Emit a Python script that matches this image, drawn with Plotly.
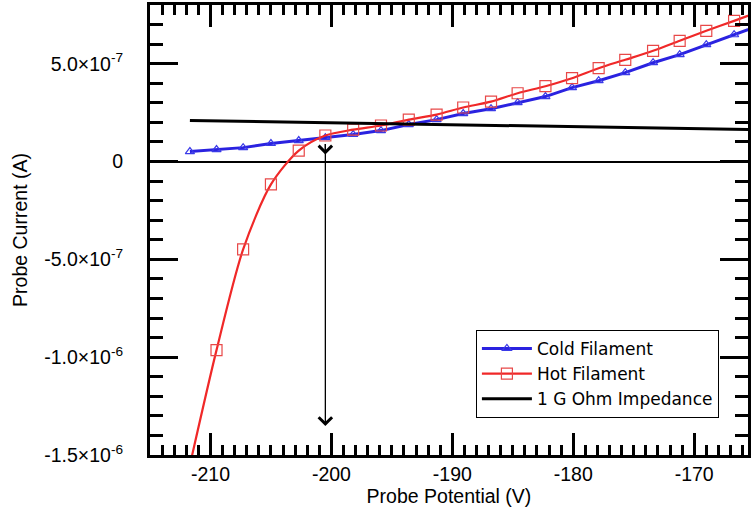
import plotly.graph_objects as go

# ---- data ----
potential = [-211.7, -209.5, -207.3, -205.0, -202.7, -200.5, -198.2, -195.9, -193.6, -191.3,
             -189.1, -186.8, -184.6, -182.3, -180.1, -177.9, -175.7, -173.4, -171.2, -169.0,
             -166.7, -164.45]
cold_current = [5.1e-8, 6.1e-8, 7.1e-8, 9.2e-8, 1.07e-7, 1.22e-7, 1.38e-7, 1.58e-7, 1.89e-7, 2.14e-7,
                2.45e-7, 2.70e-7, 3.01e-7, 3.32e-7, 3.78e-7, 4.13e-7, 4.54e-7, 5.05e-7, 5.46e-7, 5.97e-7,
                6.48e-7, 6.99e-7]
hot_current = [-1.551e-6, -9.64e-7, -4.49e-7, -1.17e-7, 5.6e-8, 1.33e-7, 1.63e-7, 1.84e-7, 2.14e-7, 2.40e-7,
               2.76e-7, 3.06e-7, 3.49e-7, 3.85e-7, 4.26e-7, 4.77e-7, 5.20e-7, 5.66e-7, 6.17e-7, 6.68e-7,
               7.19e-7, 7.70e-7]
load_potential = [-211.7, -165.0]
load_current = [2.1e-7, 1.63e-7]

arrow_x = -200.5
arrow_top = 9.7e-8
arrow_mid = 3.6e-8
arrow_bottom = -1.352e-6

x_range = [-215, -165.55]
y_range = [-1.5e-6, 8.0e-7]
y_tickvals = [-1.5e-6, -1.0e-6, -5.0e-7, 0, 5.0e-7]
y_ticktext = ["-1.5×10<sup>-6</sup>", "-1.0×10<sup>-6</sup>", "-5.0×10<sup>-7</sup>", "0",
              "5.0×10<sup>-7</sup>"]
x_tickvals = [-210, -200, -190, -180, -170]
x_ticktext = ["-210", "-200", "-190", "-180", "-170"]

FONT = "Liberation Sans, Arial, sans-serif"
LEGEND_FONT = "DejaVu Sans, sans-serif"

fig = go.Figure()
fig.add_trace(go.Scatter(
    x=potential, y=cold_current, name="Cold Filament", mode="lines+markers",
    line=dict(color="#2a22e0", width=3),
    marker=dict(symbol="triangle-up-open", size=8, color="#3a3ae8", line=dict(width=1.2)),
))
fig.add_trace(go.Scatter(
    x=potential, y=hot_current, name="Hot Filament", mode="lines+markers",
    line=dict(color="#f02828", width=2.2, shape="spline", smoothing=0.8),
    marker=dict(symbol="square-open", size=11, color="#e84848", line=dict(width=1.2)),
))
fig.add_trace(go.Scatter(
    x=load_potential, y=load_current, name="1 G Ohm Impedance", mode="lines",
    line=dict(color="black", width=3),
))

arrow_style = dict(showarrow=True, text="", axref="x", ayref="y", arrowhead=4,
                   arrowsize=2.0, arrowwidth=1.3, arrowcolor="black", standoff=0, startstandoff=0)
fig.add_annotation(x=arrow_x, y=arrow_bottom, ax=arrow_x, ay=arrow_top, **arrow_style)
fig.add_annotation(x=arrow_x, y=arrow_mid, ax=arrow_x, ay=arrow_top, **arrow_style)

axis_common = dict(
    showline=True, linecolor="black", linewidth=3, mirror="allticks",
    ticks="inside", tickcolor="black", tickwidth=3,
    showgrid=False, tickfont=dict(family=FONT, size=19.5, color="black"),
)

fig.update_xaxes(
    range=x_range, tickmode="array", tickvals=x_tickvals, ticktext=x_ticktext, ticklen=22,
    minor=dict(ticks="inside", tickmode="linear", tick0=0, dtick=1, ticklen=10,
               tickwidth=3, tickcolor="black", showgrid=False),
    zeroline=False, ticklabelstandoff=0,
    title=dict(text="Probe Potential (V)", font=dict(family=FONT, size=19.5, color="black"), standoff=4),
    **axis_common,
)
fig.update_yaxes(
    range=y_range, tickmode="array", tickvals=y_tickvals, ticktext=y_ticktext, ticklen=28,
    minor=dict(ticks="inside", tickmode="linear", tick0=0, dtick=1e-7, ticklen=13,
               tickwidth=3, tickcolor="black", showgrid=False),
    zeroline=True, zerolinecolor="black", zerolinewidth=2, ticklabelstandoff=20,
    title=dict(text="Probe Current (A)", font=dict(family=FONT, size=19.5, color="black"), standoff=12),
    **axis_common,
)

fig.update_layout(
    width=751, height=512,
    margin=dict(l=150, r=0, t=5, b=57),
    plot_bgcolor="white", paper_bgcolor="white",
    font=dict(family=FONT, color="black"),
    legend=dict(
        x=0.545, y=0.278, xanchor="left", yanchor="top",
        bgcolor="white", bordercolor="black", borderwidth=1,
        font=dict(family=LEGEND_FONT, size=17, color="black"),
        itemwidth=50, tracegroupgap=0,
    ),
    showlegend=True,
)

fig.write_html("out.html", config={"displayModeBar": False},
               post_script="document.body.style.margin='0';document.body.style.overflow='hidden';")
